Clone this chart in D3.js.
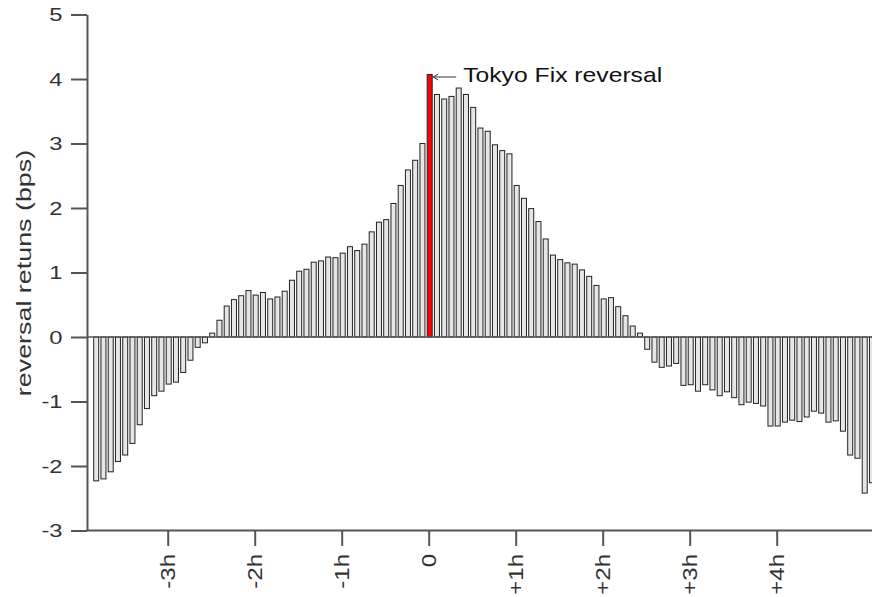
<!DOCTYPE html>
<html><head><meta charset="utf-8">
<script src="https://cdn.jsdelivr.net/npm/d3@7"></script>
<style>html,body{margin:0;padding:0;background:#fff;overflow:hidden}</style>
</head><body>
<svg id="c" width="872" height="597"></svg>
<script>
// 5-minute bins, minutes relative to the Tokyo fix
const binMinutes = d3.range(-230, 310, 5);
const reversalReturns = [
  -2.23, -2.20, -2.09, -1.93, -1.83, -1.65, -1.36, -1.11, -0.91, -0.84,
  -0.73, -0.70, -0.55, -0.36, -0.16, -0.09, 0.06, 0.26, 0.48, 0.58,
  0.64, 0.72, 0.65, 0.69, 0.59, 0.62, 0.71, 0.88, 1.02, 1.05,
  1.16, 1.18, 1.24, 1.23, 1.30, 1.40, 1.34, 1.44, 1.63, 1.78,
  1.82, 2.07, 2.35, 2.59, 2.74, 3.00, 4.07, 3.76, 3.69, 3.73,
  3.86, 3.76, 3.56, 3.24, 3.19, 2.98, 2.89, 2.84, 2.35, 2.15,
  1.99, 1.79, 1.52, 1.27, 1.20, 1.15, 1.13, 1.04, 0.94, 0.80,
  0.59, 0.61, 0.47, 0.33, 0.17, 0.06, -0.19, -0.39, -0.47, -0.45,
  -0.41, -0.75, -0.74, -0.84, -0.74, -0.82, -0.91, -0.85, -0.94, -1.05,
  -1.01, -1.03, -1.07, -1.38, -1.38, -1.32, -1.29, -1.31, -1.24, -1.15,
  -1.18, -1.32, -1.30, -1.46, -1.83, -1.88, -2.42, -2.26
];
const highlightMinute = 0;
const xTickHours = [-3, -2, -1, 0, 1, 2, 3, 4];
const xTickLabels = ["-3h", "-2h", "-1h", "0", "+1h", "+2h", "+3h", "+4h"];
const yTickValues = [-3, -2, -1, 0, 1, 2, 3, 4, 5];
const yTickLabels = ["-3", "-2", "-1", "0", "1", "2", "3", "4", "5"];
const yLabel = "reversal retuns (bps)";
const annotationText = "Tokyo Fix reversal";

const data = binMinutes.map((m, i) => ({m, v: reversalReturns[i]}));

const svg = d3.select("#c");
const W = 872;
const plotLeft = 87.5;
const axisCol = "#555";
const textCol = "#333";
const font = "'Liberation Sans', Arial, Helvetica, sans-serif";

const x = d3.scaleLinear().domain([-240, 300]).range([80.7, 863.7]);
const y = d3.scaleLinear().domain([-3, 5]).range([530.5, 14.5]);

// bars
svg.append("g").selectAll("rect").data(data).join("rect")
  .attr("x", d => x(d.m) - 1.5)
  .attr("width", 5)
  .attr("y", d => y(Math.max(0, d.v)))
  .attr("height", d => Math.abs(y(d.v) - y(0)))
  .attr("fill", d => d.m === highlightMinute ? "#ff0000" : "#e6e6e6")
  .attr("stroke", "#222")
  .attr("stroke-width", 1);

// zero line
svg.append("line")
  .attr("x1", plotLeft).attr("x2", W)
  .attr("y1", y(0)).attr("y2", y(0))
  .attr("stroke", axisCol).attr("stroke-width", 1.5);

// y axis
const gy = svg.append("g").attr("transform", `translate(${plotLeft - 0.5},0)`)
  .call(d3.axisLeft(y).tickValues(yTickValues)
    .tickFormat((d, i) => yTickLabels[i])
    .tickSize(16).tickSizeOuter(0).tickPadding(8));
gy.select(".domain").attr("stroke", axisCol).attr("stroke-width", 2);
gy.selectAll(".tick line").attr("stroke", axisCol).attr("stroke-width", 2);
gy.selectAll(".tick text")
  .attr("x", -24.5 / 1.25)
  .attr("transform", "scale(1.25,1)")
  .attr("fill", textCol)
  .style("font-family", font).style("font-size", "19px");

// x axis
const gx = svg.append("g").attr("transform", `translate(0,${y(-3) - 0.5})`)
  .call(d3.axisBottom(x).tickValues(xTickHours.map(h => h * 60))
    .tickFormat((d, i) => xTickLabels[i]).tickSize(16).tickSizeOuter(0));
gx.select(".domain").remove();
gx.selectAll(".tick line").attr("stroke", axisCol).attr("stroke-width", 2);
gx.selectAll(".tick text")
  .attr("x", 0).attr("y", 0).attr("dy", "0.36em")
  .attr("text-anchor", "end")
  .attr("transform", "translate(0,24) rotate(-90) scale(1.2,1)")
  .attr("fill", textCol)
  .style("font-family", font).style("font-size", "20px");
svg.append("line")
  .attr("x1", plotLeft - 1).attr("x2", W)
  .attr("y1", y(-3)).attr("y2", y(-3))
  .attr("stroke", axisCol).attr("stroke-width", 2);

// y label
svg.append("text")
  .attr("transform", `translate(30.5,${(y(5) + y(-3)) / 2 + 0.5}) rotate(-90) scale(1.28,1)`)
  .attr("text-anchor", "middle")
  .attr("fill", textCol)
  .style("font-family", font).style("font-size", "21px")
  .text(yLabel);

// annotation
const hx = x(highlightMinute) + 4.5, hy = y(reversalReturns[binMinutes.indexOf(highlightMinute)]) + 2.5;
const ann = svg.append("g").attr("stroke", "#333").attr("stroke-width", 1).attr("fill", "none");
ann.append("line").attr("x1", hx).attr("x2", hx + 23).attr("y1", hy).attr("y2", hy);
ann.append("path").attr("d", `M${hx + 5},${hy - 3}L${hx},${hy}L${hx + 5},${hy + 3}`);
svg.append("text")
  .attr("x", hx + 30).attr("y", hy + 5.5)
  .attr("textLength", 199).attr("lengthAdjust", "spacingAndGlyphs")
  .attr("fill", "#111")
  .style("font-family", font).style("font-size", "21px")
  .text(annotationText);
</script>
</body></html>
